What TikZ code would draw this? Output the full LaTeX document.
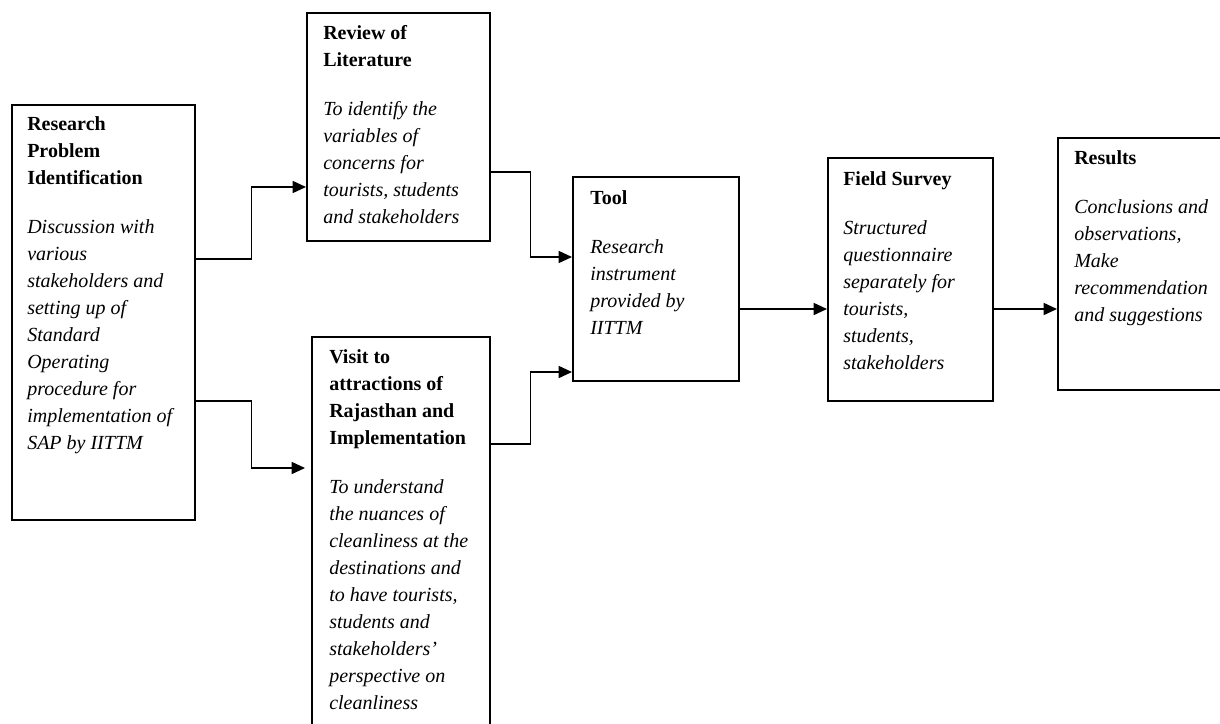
\documentclass[tikz,border=0pt]{standalone}
\usepackage{fontspec}
\setmainfont{Liberation Serif}
\usetikzlibrary{calc,arrows.meta}
\begin{document}
\begin{tikzpicture}[x=0.75pt,y=-0.75pt,
  box/.style={draw=black, line width=1.2pt, inner sep=0pt, anchor=north west},
  txt/.style={anchor=north west, inner sep=0pt, align=left, text=black,
    font=\fontsize{15pt}{20.25pt}\selectfont},
  arr/.style={draw=black, line width=1.2pt, -{Triangle[length=10pt,width=9pt]}}]
\clip (0,0) rectangle (1220,724);
\fill[white] (0,0) rectangle (1220,724);
% boxes
\node[box, minimum width=183*0.75pt, minimum height=415*0.75pt] (b1) at (11,104) {};
\node[box, minimum width=183*0.75pt, minimum height=228*0.75pt] (b2) at (306,12) {};
\node[box, minimum width=178*0.75pt, minimum height=420*0.75pt] (b3) at (311,336) {};
\node[box, minimum width=166*0.75pt, minimum height=204*0.75pt] (b4) at (572,176) {};
\node[box, minimum width=165*0.75pt, minimum height=243*0.75pt] (b5) at (827,157) {};
\node[box, minimum width=180*0.75pt, minimum height=252*0.75pt] (b6) at (1057,137) {};
% texts
\node[txt] (t1) at (27,110) {\rule{0pt}{15pt}\textbf{Research}\\\textbf{Problem}\\\textbf{Identification}\\[16.5pt]
\textit{Discussion with}\\\textit{various}\\\textit{stakeholders and}\\\textit{setting up of}\\\textit{Standard}\\\textit{Operating}\\\textit{procedure for}\\\textit{implementation of}\\\textit{SAP by IITTM}};
\node[txt] (t2) at (323,19) {\rule{0pt}{15pt}\textbf{Review of}\\\textbf{Literature}\\[16.5pt]
\textit{To identify the}\\\textit{variables of}\\\textit{concerns for}\\\textit{tourists, students}\\\textit{and stakeholders}};
\node[txt] (t3) at (329,343) {\rule{0pt}{15pt}\textbf{Visit to}\\\textbf{attractions of}\\\textbf{Rajasthan and}\\\textbf{Implementation}\\[16.5pt]
\textit{To understand}\\\textit{the nuances of}\\\textit{cleanliness at the}\\\textit{destinations and}\\\textit{to have tourists,}\\\textit{students and}\\\textit{stakeholders’}\\\textit{perspective on}\\\textit{cleanliness}};
\node[txt] (t4) at (590,184) {\rule{0pt}{15pt}\textbf{Tool}\\[16.5pt]
\textit{Research}\\\textit{instrument}\\\textit{provided by}\\\textit{IITTM}};
\node[txt] (t5) at (843,165) {\rule{0pt}{15pt}\textbf{Field Survey}\\[16.5pt]
\textit{Structured}\\\textit{questionnaire}\\\textit{separately for}\\\textit{tourists,}\\\textit{students,}\\\textit{stakeholders}};
\node[txt] (t6) at (1074,144) {\rule{0pt}{15pt}\textbf{Results}\\[16.5pt]
\textit{Conclusions and}\\\textit{observations,}\\\textit{Make}\\\textit{recommendation}\\\textit{and suggestions}};
% connectors
\draw[arr] ($(b1.north east)+(0,155)$) -- ++(56,0) |- ($(b2.north west)+(0,175)$);
\draw[arr, shorten >=4.5pt] ($(b1.north east)+(0,297)$) -- ++(56,0) |- ($(b3.north west)+(0,132)$);
\draw[arr] ($(b2.north east)+(0,160)$) -- ++(40,0) |- ($(b4.north west)+(0,81)$);
\draw[arr] ($(b3.north east)+(0,108)$) -- ++(40,0) |- ($(b4.north west)+(0,196)$);
\draw[arr] ($(b4.north east)+(0,133)$) coordinate (c1) -- (c1 -| b5.west);
\draw[arr] ($(b5.north east)+(0,152)$) coordinate (c2) -- (c2 -| b6.west);
\end{tikzpicture}
\end{document}
